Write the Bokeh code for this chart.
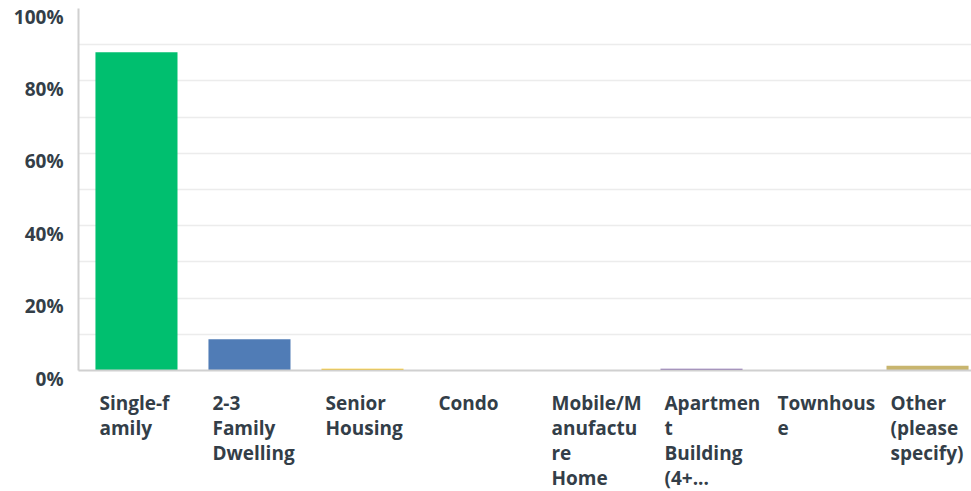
from bokeh.plotting import figure
from bokeh.models import FixedTicker, Range1d
from bokeh.core.properties import value
from bokeh.embed import file_html
from bokeh.resources import INLINE

categories = ["Single-f\namily", "2-3\nFamily\nDwelling", "Senior\nHousing", "Condo",
              "Mobile/M\nanufactu\nre\nHome", "Apartmen\nt\nBuilding\n(4+...",
              "Townhous\ne", "Other\n(please\nspecify)"]
values = [87.9, 8.6, 0.5, 0.0, 0.0, 0.5, 0.0, 1.3]
colors = ["#00bf6f", "#507cb6", "#f9be00", "#6bc8cd", "#ff8b4f", "#7d5ba6", "#f05b77", "#c8b56e"]
y_ticks = [0, 20, 40, 60, 80, 100]
y_labels = ["0%", "20%", "40%", "60%", "80%", "100%"]
grid_major = [20, 40, 60, 80]
grid_minor = [10, 30, 50, 70, 90]

xs = list(range(len(categories)))
BAR_W = 0.726
X0, X1 = -0.513, 7.389
TXT = "#333e48"
FONT = value("Open Sans")
FS = value("19px")

p = figure(width=971, height=491, output_backend="svg", toolbar_location=None,
           x_range=Range1d(X0, X1), y_range=Range1d(0, 100),
           min_border_left=78, min_border_right=0, min_border_top=8, min_border_bottom=121)
p.outline_line_color = None

p.vbar(x=xs, top=values, width=BAR_W, color=colors, line_color=None)

for ax in (p.xaxis, p.yaxis):
    ax.axis_line_color = "#d0d0d0"
    ax.axis_line_width = 2
    ax.major_tick_line_color = None
    ax.minor_tick_line_color = None
    ax.major_label_text_font_size = "0px"
p.xaxis.ticker = FixedTicker(ticks=[])
p.yaxis.ticker = FixedTicker(ticks=[])

p.xgrid.grid_line_color = None
p.ygrid.ticker = FixedTicker(ticks=grid_major, minor_ticks=grid_minor)
p.ygrid.grid_line_color = "#ececec"
p.ygrid.grid_line_width = 1.5
p.ygrid.minor_grid_line_color = "#ececec"
p.ygrid.minor_grid_line_width = 1.5

# category labels (left-aligned under each bar, drawn outside the frame clip)
p.text(x=[x - BAR_W / 2 for x in xs], y=[0] * len(xs), text=categories,
       x_offset=4, y_offset=19, text_align="left", text_baseline="top",
       text_font=FONT, text_font_size=FS, text_font_style="bold",
       text_line_height=0.965, text_color=TXT, level="overlay")

# value-axis labels
p.text(x=[X0] * len(y_ticks), y=y_ticks, text=y_labels,
       x_offset=-15, y_offset=-5, text_align="right", text_baseline="top",
       text_font=FONT, text_font_size=FS, text_font_style="bold",
       text_color=TXT, level="overlay")

open("out.html", "w").write(file_html(p, INLINE))
